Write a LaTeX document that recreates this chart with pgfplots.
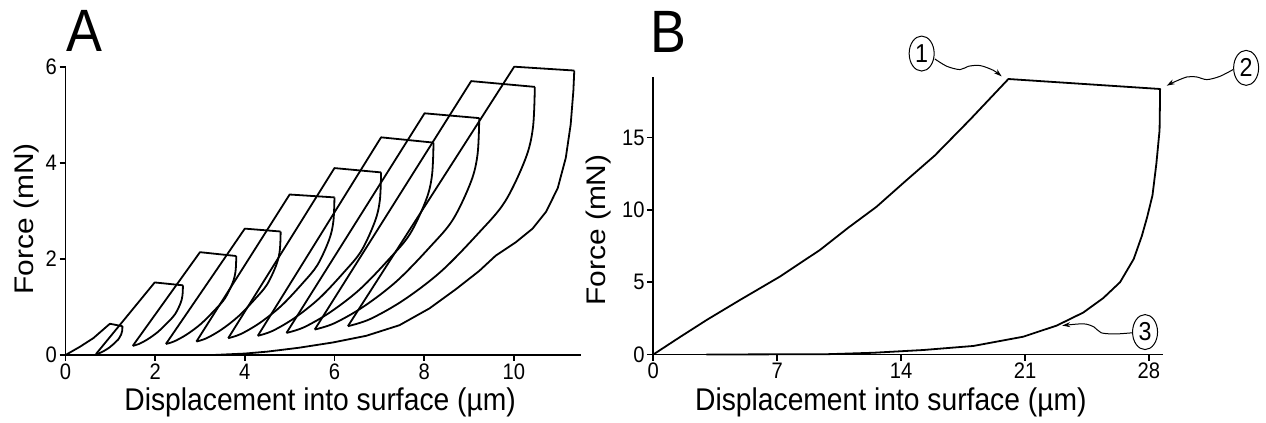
\documentclass[border=0pt]{standalone}
\usepackage{fontspec}
\setmainfont{Liberation Sans}[FakeStretch=0.9]
\newfontfamily\plainsans{Liberation Sans}
\usepackage{pgfplots}
\pgfplotsset{compat=1.18}
\usetikzlibrary{arrows.meta,shapes.geometric}

\pgfplotsset{
  panel/.style={
    scale only axis,
    axis x line=bottom, axis y line=left,
    axis line style={-, line width=1.8bp},
    tick align=outside,
    major tick length=6bp,
    major tick style={black, line width=1.8bp},
    xmin=0, ymin=0,
    /pgf/number format/assume math mode=true,
    xticklabel style={font=\fontsize{22.5}{22.5}\selectfont, inner sep=2.5bp},
    yticklabel style={font=\fontsize{22.5}{22.5}\selectfont, inner sep=2.5bp},
    xlabel style={font=\fontsize{31.5}{31.5}\selectfont},
    ylabel style={font=\plainsans\fontsize{30}{30}\selectfont},
    clip=false,
  },
  curve/.style={black, line width=1.8bp, line join=round, mark=none},
  bend/.style={curve, smooth, tension=0.55},
}
\tikzset{
  note/.style={draw, ellipse, line width=1bp, minimum width=25bp,
    minimum height=35bp, inner sep=0pt, font=\fontsize{26}{26}\selectfont},
  wave/.style={line width=1bp, -{Stealth[length=8bp,width=5bp]}},
}

\begin{document}
\begin{tikzpicture}
\path[use as bounding box] (0,0) rectangle (1266bp,423bp);

% panel A: repeated load-hold-unload cycles
\begin{axis}[panel,
  at={(65.5bp,68bp)}, anchor=south west,
  width=515.5bp, height=288.3bp,
  xmax=11.5, ymax=6,
  xtick={0,2,4,6,8,10}, ytick={0,2,4,6},
  xlabel={Displacement into surface (µm)},
  xlabel style={at={(axis description cs:0.494,-0.191)}, anchor=base},
  ylabel={\scalebox{1}[0.9]{Force (mN)}},
  ylabel style={at={(axis description cs:-0.0747,0.472)}, anchor=center},
]
% loading + hold segments
\addplot[curve] coordinates {(0,0) (0.32,0.17) (0.62,0.35) (0.99,0.65) (1.27,0.60)};
\addplot[curve] coordinates {(0.68,0.02) (1.99,1.51) (2.62,1.45)};
\addplot[curve] coordinates {(1.50,0.19) (3.0,2.14) (3.81,2.06)};
\addplot[curve] coordinates {(2.24,0.23) (4.0,2.63) (4.80,2.57)};
\addplot[curve] coordinates {(2.92,0.28) (5.0,3.34) (6.0,3.28)};
\addplot[curve] coordinates {(3.63,0.35) (6.0,3.89) (7.04,3.80)};
\addplot[curve] coordinates {(4.29,0.40) (7.04,4.53) (8.21,4.42)};
\addplot[curve] coordinates {(4.93,0.46) (8.01,5.03) (9.23,4.93)};
\addplot[curve] coordinates {(5.56,0.53) (9.05,5.70) (10.47,5.58)};
\addplot[curve] coordinates {(6.30,0.60) (10.01,6.0) (11.35,5.92)};
% unloading segments
\addplot[bend] coordinates {(1.27,0.60) (1.264,0.501) (1.241,0.426) (1.176,0.322) (1.093,0.246) (0.975,0.153) (0.857,0.084) (0.751,0.037) (0.68,0.02)};
\addplot[bend] coordinates {(2.62,1.45) (2.609,1.236) (2.564,1.072) (2.441,0.845) (2.284,0.681) (2.06,0.48) (1.836,0.329) (1.634,0.228) (1.50,0.19)};
\addplot[bend] coordinates {(3.81,2.06) (3.794,1.749) (3.732,1.511) (3.559,1.182) (3.339,0.944) (3.025,0.651) (2.711,0.431) (2.428,0.285) (2.24,0.23)};
\addplot[bend] coordinates {(4.80,2.57) (4.781,2.181) (4.706,1.883) (4.499,1.471) (4.236,1.173) (3.86,0.807) (3.484,0.532) (3.146,0.349) (2.92,0.28)};
\addplot[bend] coordinates {(6.0,3.28) (5.976,2.782) (5.882,2.401) (5.621,1.874) (5.289,1.493) (4.815,1.024) (4.341,0.672) (3.914,0.438) (3.63,0.35)};
\addplot[bend] coordinates {(7.04,3.80) (7.013,3.222) (6.903,2.78) (6.6,2.168) (6.215,1.726) (5.665,1.182) (5.115,0.774) (4.62,0.502) (4.29,0.40)};
\addplot[bend] coordinates {(8.21,4.42) (8.177,3.747) (8.046,3.232) (7.685,2.519) (7.226,2.004) (6.57,1.37) (5.914,0.896) (5.324,0.579) (4.93,0.46)};
\addplot[bend] coordinates {(9.23,4.93) (9.193,4.182) (9.047,3.61) (8.643,2.818) (8.129,2.246) (7.395,1.542) (6.661,1.014) (6.0,0.662) (5.56,0.53)};
\addplot[bend] coordinates {(10.47,5.58) (10.428,4.733) (10.262,4.086) (9.803,3.19) (9.219,2.542) (8.385,1.745) (7.551,1.148) (6.80,0.75) (6.30,0.60)};
\addplot[curve] coordinates {(11.35,5.92) (11.33,5.5) (11.27,4.8) (11.16,4.1) (10.98,3.47) (10.72,2.98) (10.42,2.63)
  (10.05,2.35) (9.6,2.07) (9.23,1.75) (8.71,1.37) (8.12,0.97) (7.45,0.62) (6.71,0.40) (5.96,0.26) (5.2,0.15)
  (4.5,0.07) (4.0,0.03) (3.3,0)};
\end{axis}

% panel B: single cycle with annotated points
\begin{axis}[panel,
  at={(653.3bp,68.5bp)}, anchor=south west,
  width=509.8bp, height=277.8bp,
  xmax=28.8, ymax=19.2,
  xtick={0,7,14,21,28}, ytick={0,5,10,15},
  xlabel={Displacement into surface (µm)},
  xlabel style={at={(axis description cs:0.466,-0.203)}, anchor=base},
  ylabel={\scalebox{1}[0.9]{Force (mN)}},
  ylabel style={at={(axis description cs:-0.1065,0.448)}, anchor=center},
]
\addplot[curve] coordinates {
  (0,0) (1.5,1.2) (3.02,2.39) (4.9,3.77) (7.16,5.39) (9.42,7.23) (11.0,8.75) (12.6,10.2)
  (14.26,12.0) (15.9,13.75) (17.89,16.23) (20.06,19.04)
  (28.63,18.35)
  (28.62,17.2) (28.6,15.5) (28.42,13.2) (28.2,11.0) (27.9,9.5) (27.6,8.2) (27.14,6.6)
  (26.37,5.0) (25.42,3.9) (24.29,2.9) (22.79,2.0) (20.9,1.23) (18.08,0.59) (15.25,0.31)
  (12.43,0.12) (9.8,0.02) (3.0,0)
};
\node[note] at (axis cs:15.16,20.8) {1};
\node[note] at (axis cs:33.49,19.81) {2};
\node[note] at (axis cs:27.78,1.55) {3};
\draw[wave] plot[smooth] coordinates {(axis cs:15.9,20.43) (axis cs:16.58,19.92) (axis cs:17.33,19.69)
  (axis cs:17.8,19.92) (axis cs:18.46,19.97) (axis cs:19.21,19.64) (axis cs:19.68,19.22)};
\draw[wave] plot[smooth] coordinates {(axis cs:32.75,19.69) (axis cs:32.0,19.22) (axis cs:31.27,19.0)
  (axis cs:30.7,19.18) (axis cs:30.14,19.18) (axis cs:29.38,18.81) (axis cs:29.0,18.58)};
\draw[wave] plot[smooth] coordinates {(axis cs:27.05,1.5) (axis cs:26.1,1.42) (axis cs:25.3,1.5)
  (axis cs:24.9,1.9) (axis cs:24.3,2.12) (axis cs:23.1,2.0)};
\end{axis}

\node[anchor=base west, inner sep=0pt, font=\fontsize{60}{60}\selectfont] at (66bp,371.3bp) {A};
\node[anchor=base west, inner sep=0pt, font=\fontsize{60}{60}\selectfont] at (650bp,370bp) {B};
\end{tikzpicture}
\end{document}
